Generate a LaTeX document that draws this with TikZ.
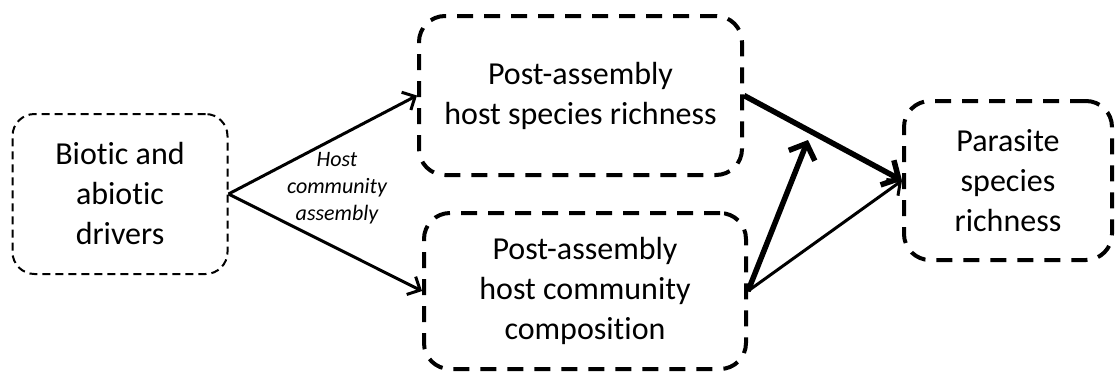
\documentclass[tikz,border=0pt]{standalone}
\usepackage{fontspec}
\setmainfont{Carlito}[RawFeature={-liga;-clig;-calt;-dlig}]
\usetikzlibrary{arrows.meta}
\begin{document}
\begin{tikzpicture}[x=1pt,y=-1pt,
  box/.style={draw, rounded corners=26pt, line width=4pt, dash pattern=on 16pt off 11pt,
    align=center, inner sep=0pt, font=\fontsize{32}{40}\selectfont},
  thinbox/.style={box, line width=2pt, dash pattern=on 8pt off 5pt, rounded corners=22pt},
  arr/.style={line width=3pt, -{Straight Barb[length=10pt,width=20pt]}},
  thickarr/.style={line width=5.5pt, -{Straight Barb[length=13pt,width=28pt]}},
  lbl/.style={font=\itshape\fontsize{22}{27}\selectfont, align=center, inner sep=0pt}]
\useasboundingbox (0,0) rectangle (1120,376);
\node[thinbox, minimum width=215pt, minimum height=160pt] (drv) at (120,194) {Biotic and\\abiotic\\drivers};
\node[box, minimum width=323pt, minimum height=159pt] (hsr) at (580.5,95.5) {Post-assembly\\host species richness};
\node[box, minimum width=322pt, minimum height=156pt] (hcc) at (585,291) {Post-assembly\\host community\\composition};
\node[box, minimum width=208pt, minimum height=159pt] (psr) at (1008,180.5) {Parasite\\species\\richness};
\node[lbl] (lab) at (337,188) {Host\\community\\assembly};
\coordinate (mid) at (808,140);
\draw[arr] (drv.east) -- (hsr.west);
\draw[arr] (drv.east) -- (hcc.west);
\draw[thickarr] (hsr.east) -- (psr.west);
\draw[thickarr] (hcc.east) -- (mid);
\draw[arr] (hcc.east) -- (psr.west);
\end{tikzpicture}
\end{document}
